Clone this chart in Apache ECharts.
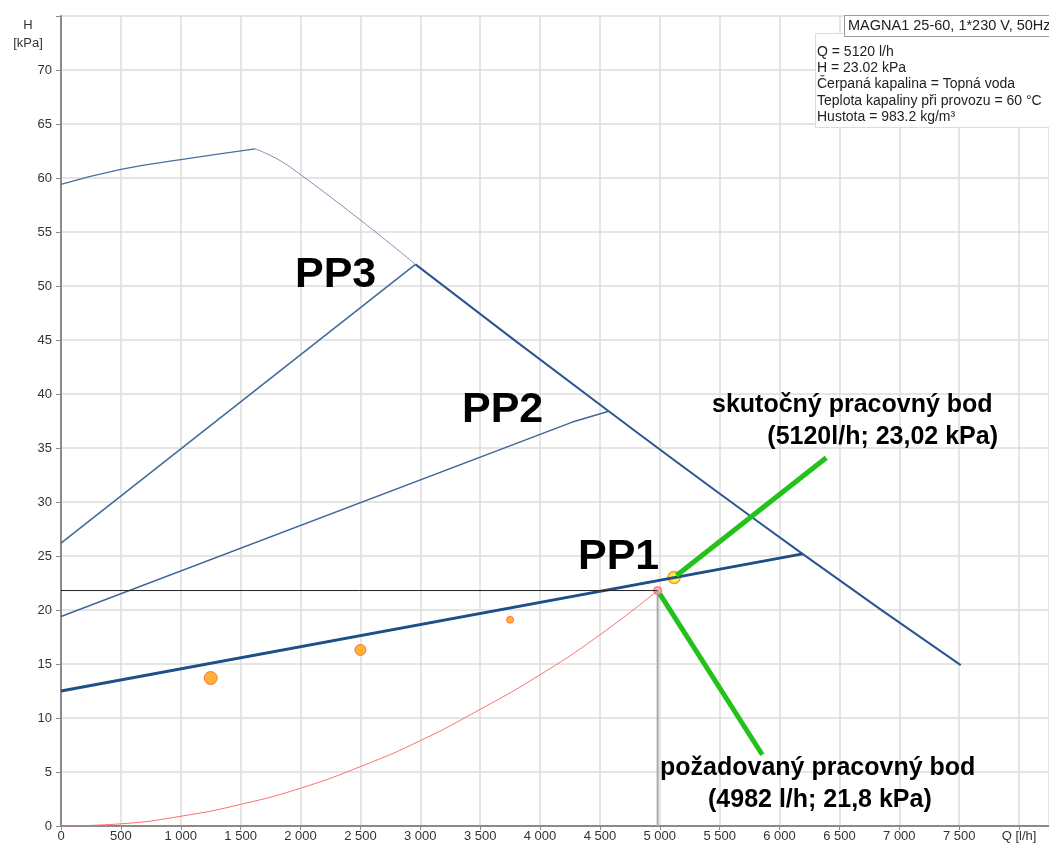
<!DOCTYPE html>
<html>
<head>
<meta charset="utf-8">
<title>MAGNA1 25-60</title>
<script src="https://cdn.jsdelivr.net/npm/echarts@6/dist/echarts.min.js"></script>
<style>
    html, body { margin: 0; padding: 0; background: #fff; }
    #chart { width: 1049px; height: 846px; }
</style>
</head>
<body>
<div id="chart"></div>
<script>
    // osy
    var xTicks = [0, 500, 1000, 1500, 2000, 2500, 3000, 3500, 4000, 4500, 5000, 5500, 6000, 6500, 7000, 7500, 8000];
    var yTicks = [0, 5, 10, 15, 20, 25, 30, 35, 40, 45, 50, 55, 60, 65, 70];

    // max. krivka cerpadla (3 casti)
    var maxQ1 = [0, 500, 1000, 1622];
    var maxH1 = [59.4, 60.8, 61.7, 62.7];
    var maxQ2 = [1622, 1915, 2960];
    var maxH2 = [62.7, 61.0, 52.0];
    var maxQ3 = [2960, 4574, 6192, 7513];
    var maxH3 = [52.0, 38.4, 25.2, 14.9];

    // proporcionalni tlak PP1..PP3
    var pp3Q = [0, 2960];
    var pp3H = [26.2, 52.0];
    var pp2Q = [0, 4270, 4574];
    var pp2H = [19.4, 37.4, 38.4];
    var pp1Q = [0, 6192];
    var pp1H = [12.5, 25.2];

    // charakteristika soustavy
    var sysQ = [0, 500, 1000, 1500, 2000, 2500, 3000, 3500, 4000, 4500, 4982];
    var sysH = [0, 0.2, 0.9, 2.0, 3.5, 5.5, 7.9, 10.8, 14.0, 17.7, 21.8];

    // body
    var dotsQ = [1250, 2500, 3750];
    var dotsH = [13.7, 16.3, 19.1];
    var dotsSize = [13, 11, 7];
    var reqPoint = [4982, 21.8];
    var actPoint = [5120, 23.02];

    // zelene odkazy
    var arrowUpQ = [5140, 6390];
    var arrowUpH = [23.2, 34.1];
    var arrowDownQ = [5000, 5856];
    var arrowDownH = [21.5, 6.6];

    var infoTitle = 'MAGNA1 25-60, 1*230 V, 50Hz';
    var infoLines = ['Q = 5120 l/h', 'H = 23.02 kPa', 'Čerpaná kapalina = Topná voda',
        'Teplota kapaliny při provozu = 60 °C', 'Hustota = 983.2 kg/m³'];

    function pairs(qs, hs) {
        return qs.map(function (q, i) { return [q, hs[i]]; });
    }

    function lineSeries(qs, hs, color, width, smooth) {
        return {
            type: 'line',
            data: pairs(qs, hs),
            showSymbol: false,
            smooth: smooth || false,
            silent: true,
            lineStyle: {color: color, width: width}
        };
    }

    function label(x, y, text, size, align) {
        return {
            type: 'text', x: x, y: y, z: 100,
            style: {text: text, fill: '#000', font: 'bold ' + size + 'px ' + font,
                textAlign: align || 'left', textVerticalAlign: 'middle'}
        };
    }

    var font = "'Liberation Sans', Arial, sans-serif";

    var myChart = echarts.init(document.getElementById('chart'));
    var option;
    option = {
        backgroundColor: '#fff',
        animation: false,
        textStyle: {fontFamily: font},
        grid: {left: 61, right: 0, top: 16, bottom: 20},
        xAxis: {
            type: 'value',
            min: 0,
            max: 8250,
            interval: 500,
            axisLine: {onZero: false, lineStyle: {color: '#8a8a8a', width: 2}},
            axisTick: {length: 4, lineStyle: {color: '#8a8a8a'}},
            splitLine: {lineStyle: {color: '#dcdcdc', width: 1.5}},
            axisLabel: {
                color: '#333',
                fontSize: 13,
                margin: 4,
                showMaxLabel: false,
                formatter: function (v) {
                    if (v === 8000) return 'Q [l/h]';
                    if (xTicks.indexOf(v) < 0) return '';
                    return String(v).replace(/\B(?=(\d{3})+(?!\d))/g, ' ');
                }
            }
        },
        yAxis: {
            type: 'value',
            min: 0,
            max: 75,
            interval: 5,
            axisLine: {show: true, onZero: false, lineStyle: {color: '#8a8a8a', width: 2}},
            axisTick: {show: true, length: 5, lineStyle: {color: '#8a8a8a'}},
            splitLine: {lineStyle: {color: '#dcdcdc', width: 1.5}},
            axisLabel: {
                color: '#333',
                fontSize: 13,
                margin: 9,
                formatter: function (v) {
                    return yTicks.indexOf(v) < 0 ? '' : String(v);
                }
            }
        },
        series: [
            lineSeries(maxQ1, maxH1, '#4d6f9e', 1.3, true),
            lineSeries(maxQ2, maxH2, '#8090b4', 1, true),
            lineSeries(maxQ3, maxH3, '#2b5590', 2, true),
            lineSeries(pp3Q, pp3H, '#3f6899', 1.5),
            lineSeries(pp2Q, pp2H, '#3f6899', 1.5),
            lineSeries(pp1Q, pp1H, '#1d4f88', 2.8),
            lineSeries(sysQ, sysH, '#ff6b6b', 1, true),
            // vodorovna a svisla cara k pozadovanemu bodu
            lineSeries([0, reqPoint[0]], [reqPoint[1], reqPoint[1]], '#222', 1),
            lineSeries([reqPoint[0], reqPoint[0]], [0, reqPoint[1]], '#a8a8a8', 2),
            lineSeries(arrowUpQ, arrowUpH, '#22c21b', 5),
            lineSeries(arrowDownQ, arrowDownH, '#22c21b', 5),
            {
                type: 'scatter',
                silent: true,
                data: dotsQ.map(function (q, i) {
                    return {value: [q, dotsH[i]], symbolSize: dotsSize[i]};
                }),
                itemStyle: {color: '#ffa000', borderColor: '#ff5a3c', borderWidth: 1}
            },
            {
                type: 'scatter',
                silent: true,
                symbolSize: 8,
                data: [reqPoint],
                itemStyle: {color: '#ff9e9e', borderColor: '#ff4a4a', borderWidth: 1}
            },
            {
                type: 'scatter',
                silent: true,
                symbolSize: 12,
                data: [actPoint],
                itemStyle: {color: '#ffee00', borderColor: '#ff7a2a', borderWidth: 1.5}
            }
        ],
        graphic: [
            {type: 'text', x: 28, y: 16, style: {text: 'H\n[kPa]', fill: '#333', font: '13px ' + font, textAlign: 'center', lineHeight: 18}},
            label(295, 275, 'PP3', 43),
            label(462, 410, 'PP2', 43),
            label(578, 557, 'PP1', 43),
            label(712, 405, 'skutočný pracovný bod', 25),
            label(998, 437, '(5120l/h; 23,02 kPa)', 25, 'right'),
            label(660, 768, 'požadovaný pracovný bod', 25),
            label(708, 800, '(4982 l/h; 21,8 kPa)', 25),
            // infobox
            {type: 'rect', shape: {x: 815.5, y: 33.5, width: 240, height: 94}, style: {fill: '#fff', stroke: '#dcdcdc', lineWidth: 1}, z: 10},
            {type: 'rect', shape: {x: 844.5, y: 15.5, width: 212, height: 21}, style: {fill: '#fff', stroke: '#9a9a9a', lineWidth: 1}, z: 10},
            {type: 'text', x: 848, y: 26, z: 11, style: {text: infoTitle, fill: '#222', font: '14.5px ' + font, textVerticalAlign: 'middle'}},
            {type: 'text', x: 817, y: 44, z: 11, style: {text: infoLines.join('\n'), fill: '#222', font: '14px ' + font, lineHeight: 16.2}}
        ]
    };
    option && myChart.setOption(option);
</script>
</body>
</html>
